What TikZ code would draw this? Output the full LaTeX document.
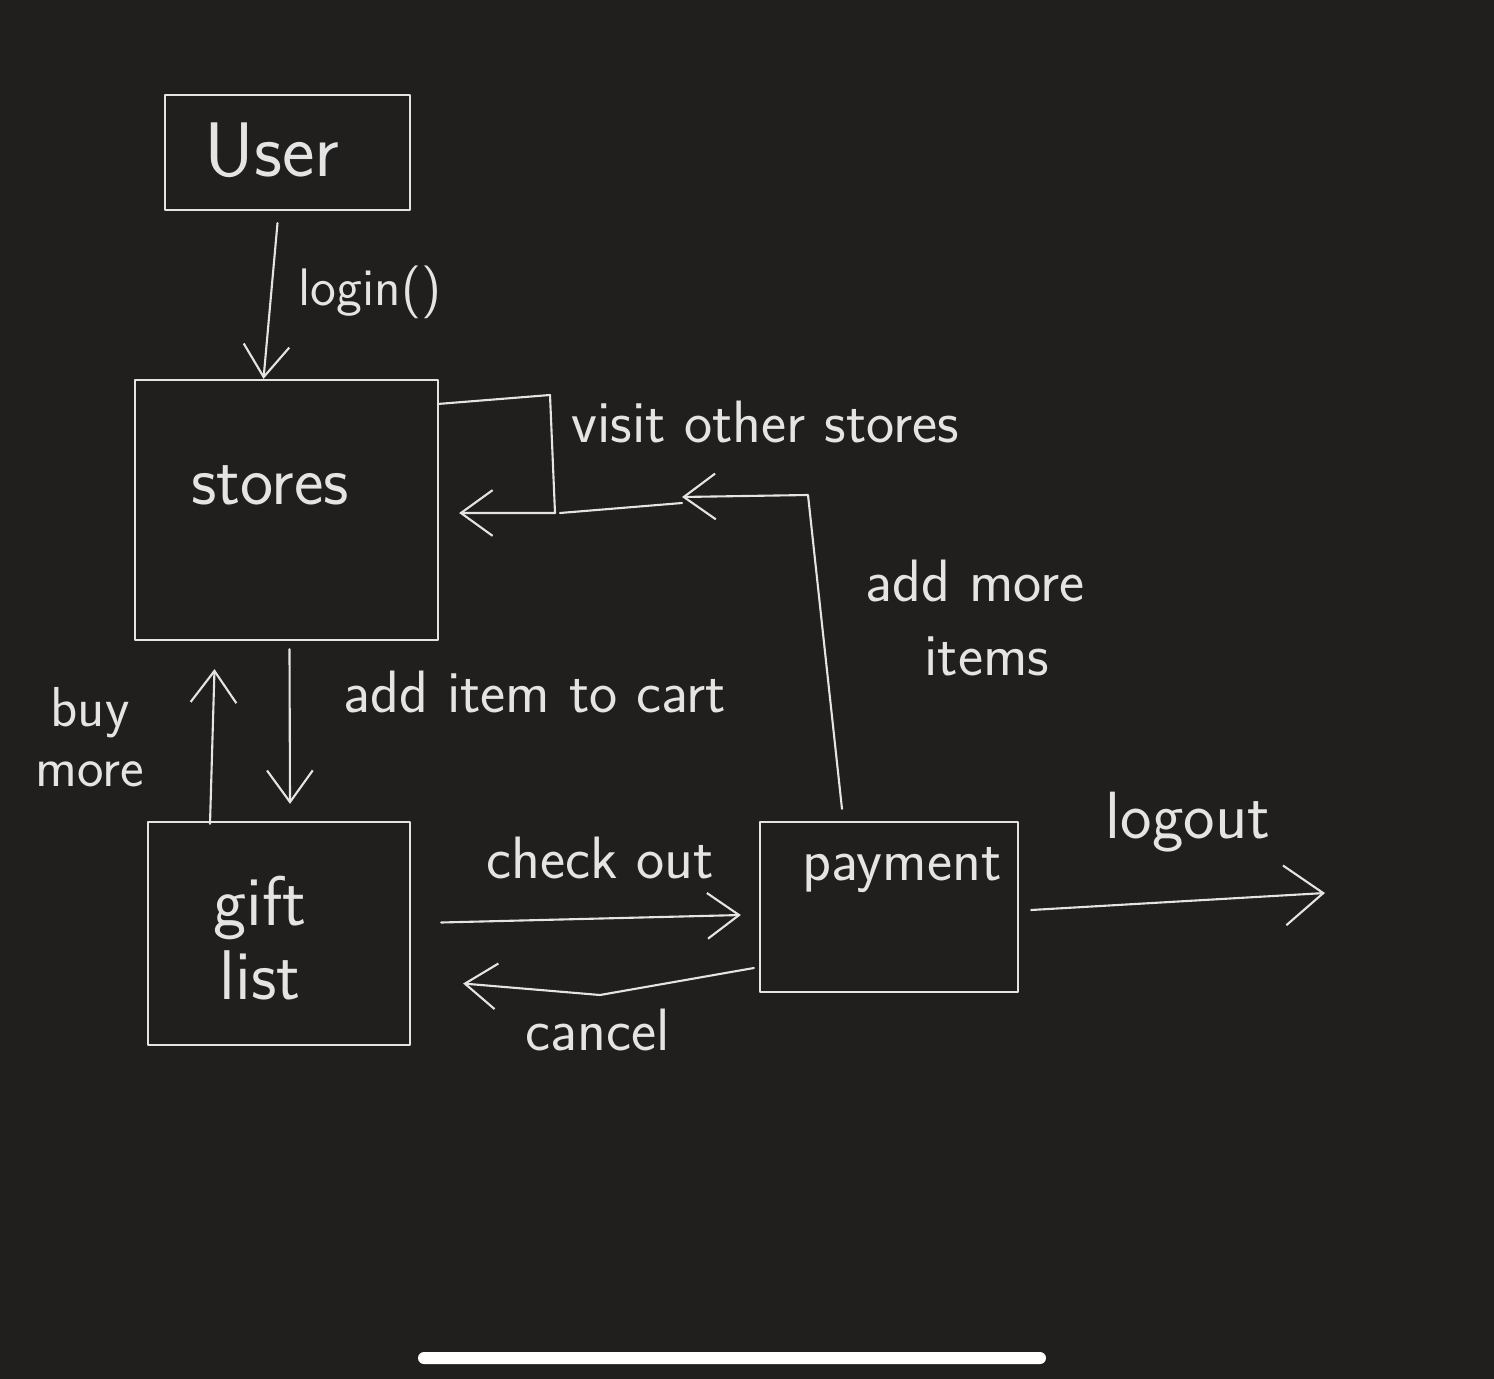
\documentclass[tikz,border=0pt]{standalone}
\usepackage{fontspec}
\usetikzlibrary{arrows.meta,calc}
\definecolor{bg}{HTML}{201F1D}
\definecolor{inkc}{HTML}{E4E4E4}
\begin{document}
\begin{tikzpicture}[x=0.01cm,y=-0.01cm,
  pen/.style={draw=inkc,line width=0.6pt,line cap=round,line join=round},
  box/.style={pen,rectangle,inner sep=0pt},
  arr/.style={pen,-{Straight Barb[length=9pt,width=13pt,line width=0.6pt]}},
  bigarr/.style={pen,-{Straight Barb[length=11pt,width=17pt,line width=0.6pt]}},
  lbl/.style={text=inkc,font=\sffamily\fontsize{17}{21}\selectfont,inner sep=0pt,align=center}]
% background
\fill[bg] (0,0) rectangle (1494,1379);
\useasboundingbox (0,0) rectangle (1494,1379);
% boxes
\node[box,minimum width=2.45cm,minimum height=1.15cm] (user) at (287.5,152.5) {};
\node[box,minimum width=3.03cm,minimum height=2.60cm] (stores) at (286.5,510) {};
\node[box,minimum width=2.62cm,minimum height=2.23cm] (gift) at (279,933.5) {};
\node[box,minimum width=2.58cm,minimum height=1.70cm] (payment) at (889,907) {};
% box texts
\node[lbl,font=\sffamily\fontsize{22}{26}\selectfont] (tuser) at (272,150) {User};
\node[lbl,font=\sffamily\fontsize{20}{24}\selectfont] (tstores) at (270,485) {stores};
\node[lbl,font=\sffamily\fontsize{20}{21}\selectfont] (tgift) at (260,938) {gift\\list};
\node[lbl] (tpay) at (902,870) {payment};
% connector labels
\node[lbl,font=\sffamily\fontsize{15}{18}\selectfont] (llogin) at (370,292) {login()};
\node[lbl] (lvisit) at (765,422) {visit other stores};
\node[lbl,font=\sffamily\fontsize{17}{21}\selectfont] (lmore) at (975,618) {add more\\\hspace*{0.4em}items};
\node[lbl] (lcart) at (535,692) {add item to cart};
\node[lbl,font=\sffamily\fontsize{16}{17}\selectfont] (lbuy) at (90,737) {buy\\more};
\node[lbl] (lcheck) at (600,858) {check out};
\node[lbl] (lcancel) at (598,1030) {cancel};
\node[lbl,font=\sffamily\fontsize{19}{23}\selectfont] (llogout) at (1188,822) {logout};
% coordinates for free ends / bends
\coordinate (v1) at (550,395);
\coordinate (v2) at (555,513);
\coordinate (m1) at (808,495);
\coordinate (m2) at (682,497);
\coordinate (m3) at (682,503);
\coordinate (m4) at (560,513);
\coordinate (outend) at (1325,893);
% connectors
\draw[arr] ($(user.south)+(-10,12)$) -- ($(stores.north)+(-23,0)$);
\draw[arr] ($(stores.north east)+(0,25)$) -- (v1) -- (v2) -- ($(stores.east)+(20,3)$);
\draw[arr] ($(payment.north)+(-47,-12)$) -- (m1) -- (m2);
\draw[pen] (m3) -- (m4);
\draw[arr] ($(stores.south)+(3,8)$) -- ($(gift.north)+(11,-17)$);
\draw[arr] ($(gift.north)+(-69,3)$) -- ($(stores.south)+(-72,28)$);
\draw[arr] ($(gift.east)+(30,-11)$) -- ($(payment.west)+(-18,8)$);
\draw[arr] ($(payment.west)+(-5,61)$) -- (600,995) -- ($(gift.east)+(52,50)$);
\draw[bigarr] ($(payment.east)+(12,3)$) -- (outend);
% home indicator
\fill[white,rounded corners=0.06cm] (418,1352) rectangle (1046,1364);
\end{tikzpicture}
\end{document}
